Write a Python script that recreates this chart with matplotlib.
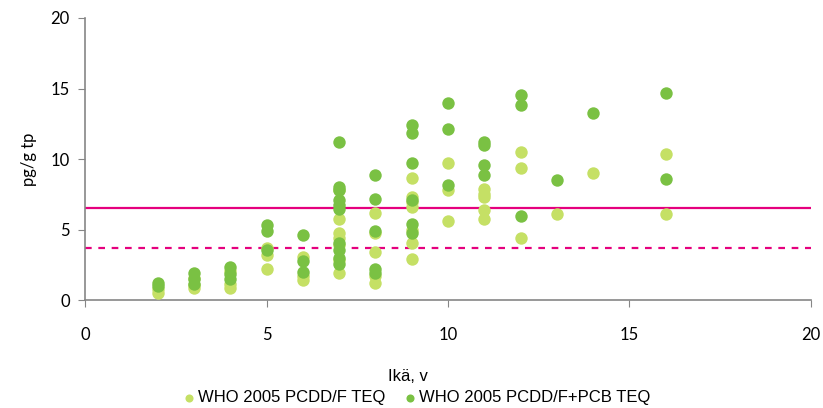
import numpy as np
import matplotlib.pyplot as plt

# age (years) and TEQ values
age_f = [2, 2, 3, 3, 3, 4, 4, 4, 5, 5, 5,
         6, 6, 6, 7, 7, 7, 7, 7, 7, 7,
         8, 8, 8, 8, 8, 9, 9, 9, 9, 9, 9, 9,
         10, 10, 10, 11, 11, 11, 11, 11,
         12, 12, 12, 13, 14, 16, 16]
teq_f = [0.8, 0.5, 1.6, 1.1, 0.85, 2.1, 1.2, 0.85, 3.7, 3.2, 2.25,
         3.1, 1.75, 1.45, 7.8, 5.75, 4.75, 4.4, 3.9, 2.9, 1.95,
         6.2, 4.75, 3.4, 1.7, 1.25, 8.65, 7.35, 7.0, 6.65, 5.0, 4.05, 2.95,
         9.75, 7.8, 5.65, 7.9, 7.55, 7.3, 6.4, 5.8,
         10.5, 9.35, 4.4, 6.1, 9.05, 10.35, 6.1]

age_fp = [2, 2, 3, 3, 3, 4, 4, 4, 5, 5, 5,
          6, 6, 6, 7, 7, 7, 7, 7, 7, 7, 7, 7, 7,
          8, 8, 8, 8, 8, 9, 9, 9, 9, 9, 9,
          10, 10, 10, 11, 11, 11, 11,
          12, 12, 12, 13, 14, 16, 16]
teq_fp = [1.25, 1.0, 1.95, 1.5, 1.2, 2.4, 1.9, 1.55, 5.35, 4.95, 3.55,
          4.65, 2.8, 2.05, 11.2, 8.05, 7.8, 7.1, 6.75, 6.45, 4.05, 3.6, 3.0, 2.6,
          8.9, 7.2, 4.9, 2.25, 1.95, 12.45, 11.85, 9.75, 7.1, 5.4, 4.75,
          14.0, 12.15, 8.2, 11.2, 11.0, 9.6, 8.9,
          14.55, 13.85, 5.95, 8.5, 13.3, 14.7, 8.6]

limit_solid = 6.55
limit_dashed = 3.7

light = '#C5E065'
dark = '#7AC143'
magenta = '#E5007E'

fig = plt.figure(figsize=(8.23, 4.08), dpi=100)
ax = fig.add_axes([0.1033, 0.2635, 0.8821, 0.6924])

ax.scatter(age_f, teq_f, s=80, color=light, linewidths=0, zorder=3,
           label="WHO 2005 PCDD/F TEQ")
ax.scatter(age_fp, teq_fp, s=80, color=dark, linewidths=0, zorder=4,
           label="WHO 2005 PCDD/F+PCB TEQ")
ax.axhline(limit_solid, color=magenta, lw=1.6, zorder=2)
ax.axhline(limit_dashed, color=magenta, lw=1.6, ls=(0, (3, 3)), zorder=2)

ax.set_xlim(0, 20)
ax.set_ylim(0, 20)
ax.set_xticks([0, 5, 10, 15, 20])
ax.set_yticks([0, 5, 10, 15, 20])
for s in ['top', 'right']:
    ax.spines[s].set_visible(False)
for s in ['left', 'bottom']:
    ax.spines[s].set_color('#868686')
    ax.spines[s].set_linewidth(1.2)
ax.tick_params(axis='both', direction='out', length=5, color='#868686',
               labelsize=12, pad=6)
for lab in ax.get_xticklabels() + ax.get_yticklabels():
    lab.set_family(['Lato', 'DejaVu Sans'])
ax.tick_params(axis='x', pad=14)

ax.set_ylabel("pg/g tp", fontsize=12, family=['Lato', 'DejaVu Sans'],
              labelpad=10)
fig.text(0.496, 0.076, "Ikä, v", fontsize=12, ha='center', va='center',
         family=['Liberation Sans Narrow', 'Liberation Sans'])

leg = fig.legend(loc='center', bbox_to_anchor=(0.505, 0.025), ncol=2,
                 frameon=False, markerscale=0.65,
                 handletextpad=0.05, columnspacing=1.0, borderaxespad=0,
                 handlelength=1.0,
                 prop={'family': ['Liberation Sans Narrow', 'Liberation Sans'],
                       'size': 12})

fig.savefig("out.png", dpi=100)
